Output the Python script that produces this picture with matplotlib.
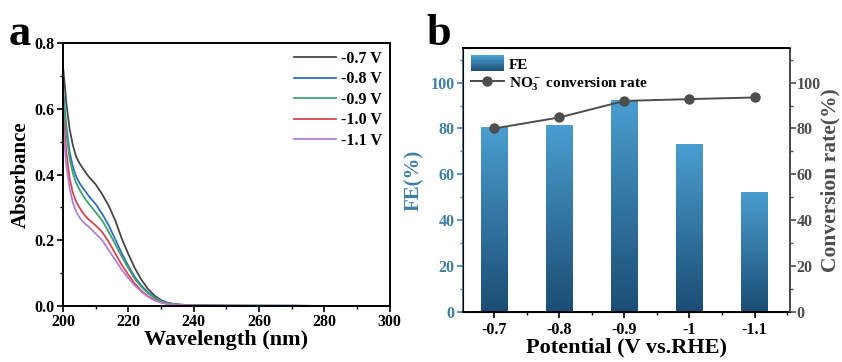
import numpy as np
import matplotlib
matplotlib.use("Agg")
import matplotlib.pyplot as plt
from matplotlib.ticker import MultipleLocator
from matplotlib.colors import LinearSegmentedColormap
from matplotlib.legend_handler import HandlerBase

plt.rcParams['font.family'] = 'Liberation Serif'
plt.rcParams['font.weight'] = 'bold'
plt.rcParams['mathtext.fontset'] = 'custom'
plt.rcParams['mathtext.rm'] = 'Liberation Serif:bold'
plt.rcParams['mathtext.it'] = 'Liberation Serif:bold'
plt.rcParams['mathtext.bf'] = 'Liberation Serif:bold'

# ---- panel a: UV-vis spectra ----
wavelength = [200, 201, 202, 203, 204, 205, 206, 207, 208, 210, 212, 214, 216, 218,
              220, 222, 224, 226, 228, 230, 232, 234, 236, 238, 240, 250, 260, 270,
              280, 290, 300]
abs_07 = [0.73, 0.62, 0.54, 0.49, 0.455, 0.435, 0.42, 0.405, 0.392, 0.37, 0.34, 0.305, 0.26,
          0.205, 0.158, 0.115, 0.080, 0.052, 0.032, 0.018, 0.010, 0.006, 0.004, 0.003,
          0.002, 0.001, 0.001, 0.001, 0.0, 0.0, 0.0]
abs_08 = [0.66, 0.55, 0.47, 0.425, 0.395, 0.375, 0.36, 0.347, 0.333, 0.31, 0.28, 0.245, 0.203,
          0.160, 0.122, 0.088, 0.062, 0.042, 0.027, 0.016, 0.009, 0.005, 0.004, 0.003,
          0.002, 0.001, 0.001, 0.001, 0.0, 0.0, 0.0]
abs_09 = [0.64, 0.53, 0.45, 0.405, 0.375, 0.355, 0.338, 0.323, 0.31, 0.285, 0.26, 0.225, 0.188,
          0.150, 0.115, 0.082, 0.058, 0.039, 0.025, 0.015, 0.008, 0.005, 0.003, 0.002,
          0.002, 0.001, 0.001, 0.0, 0.0, 0.0, 0.0]
abs_10 = [0.59, 0.47, 0.39, 0.345, 0.318, 0.30, 0.285, 0.272, 0.262, 0.245, 0.225, 0.195, 0.160,
          0.125, 0.095, 0.068, 0.046, 0.030, 0.019, 0.011, 0.006, 0.004, 0.003, 0.002,
          0.001, 0.001, 0.0, 0.0, 0.0, 0.0, 0.0]
abs_11 = [0.55, 0.43, 0.36, 0.315, 0.288, 0.27, 0.258, 0.248, 0.24, 0.22, 0.20, 0.17, 0.140,
          0.110, 0.085, 0.062, 0.043, 0.028, 0.017, 0.010, 0.006, 0.004, 0.002, 0.002,
          0.001, 0.001, 0.0, 0.0, 0.0, 0.0, 0.0]
spectra = [abs_07, abs_08, abs_09, abs_10, abs_11]
spec_labels = ['-0.7 V', '-0.8 V', '-0.9 V', '-1.0 V', '-1.1 V']
spec_colors = ['#474747', '#2f6fbf', '#3ea36c', '#d9434d', '#b07fd8']

# ---- panel b: FE and conversion rate ----
potentials = ['-0.7', '-0.8', '-0.9', '-1', '-1.1']
fe = [80.5, 81.5, 92.6, 73.2, 52.3]
conversion = [80.0, 84.8, 92.0, 92.8, 93.5]

cmap = LinearSegmentedColormap.from_list('fe', ['#1b4d74', '#4a9ed0'])


class GradientHandler(HandlerBase):
    # legend box drawn as a vertical gradient, like the bars
    def create_artists(self, legend, orig_handle, xdescent, ydescent,
                       width, height, fontsize, trans):
        n = 20
        arts = []
        for i in range(n):
            r = plt.Rectangle((-xdescent, -ydescent + height * i / n), width,
                              height / n + 0.3, facecolor=cmap(i / (n - 1)),
                              edgecolor='none', transform=trans)
            arts.append(r)
        return arts


fig = plt.figure(figsize=(8.42, 3.62), dpi=100)

# panel a
ax1 = fig.add_axes([0.0748, 0.1547, 0.388, 0.7265])
for y, lab, c in zip(spectra, spec_labels, spec_colors):
    ax1.plot(wavelength, y, color=c, lw=1.3, label=lab)
ax1.set_xlim(200, 300)
ax1.set_ylim(0, 0.8)
ax1.xaxis.set_major_locator(MultipleLocator(20))
ax1.xaxis.set_minor_locator(MultipleLocator(10))
ax1.yaxis.set_major_locator(MultipleLocator(0.2))
ax1.yaxis.set_minor_locator(MultipleLocator(0.1))
ax1.yaxis.set_major_formatter(matplotlib.ticker.FormatStrFormatter('%.1f'))
ax1.tick_params(which='major', length=4, width=1.2, labelsize=11.5, pad=2)
ax1.tick_params(which='minor', length=2, width=1.0)
for s in ax1.spines.values():
    s.set_linewidth(1.4)
ax1.set_xlabel('Wavelength (nm)', fontsize=16, fontweight='bold', labelpad=0)
ax1.set_ylabel('Absorbance', fontsize=15, fontweight='bold', labelpad=3)
ax1.legend(loc='upper right', frameon=False, fontsize=11.5, handlelength=2.6,
           labelspacing=0.28, borderaxespad=0.1, handletextpad=0.3)
fig.text(0.010, 0.875, 'a', fontsize=32, fontweight='bold')

# panel b
blue = '#3f7fa3'
gray = '#4d4d4d'
ax2 = fig.add_axes([0.5499, 0.138, 0.388, 0.729])
x = np.arange(len(potentials))
bars = ax2.bar(x, fe, width=0.41, color='#2e78a8', zorder=2)
grad = np.linspace(0, 1, 256).reshape(-1, 1)
for b in bars:
    bx, by = b.get_x(), b.get_y()
    w, h = b.get_width(), b.get_height()
    im = ax2.imshow(grad, cmap=cmap, origin='lower', aspect='auto',
                    extent=[bx, bx + w, by, by + h], zorder=2)
    im.set_clip_path(b)
    b.set_facecolor('none')
ax2.set_xlim(-0.48, 4.54)
ax2.set_ylim(0, 115)
ax2.set_xticks(x)
ax2.set_xticklabels(potentials)
ax2.xaxis.set_minor_locator(MultipleLocator(0.5))
ax2.yaxis.set_major_locator(MultipleLocator(20))
ax2.yaxis.set_minor_locator(MultipleLocator(10))
ax2.tick_params(axis='x', which='major', length=4, width=1.2, labelsize=11.5, pad=3)
ax2.tick_params(axis='x', which='minor', length=2, width=1.0)
ax2.tick_params(axis='y', which='major', length=4, width=1.2, labelsize=11.5, pad=2,
                colors=blue)
ax2.tick_params(axis='y', which='minor', length=2, width=1.0, colors=blue)
for s in ax2.spines.values():
    s.set_linewidth(1.4)
ax2.spines['left'].set_color(blue)
ax2.set_xlabel('Potential (V vs.RHE)', fontsize=16, fontweight='bold', labelpad=0)
ax2.set_ylabel('FE(%)', fontsize=15, fontweight='bold', color=blue, labelpad=5)

ax3 = ax2.twinx()
ax3.plot(x, conversion, color=gray, lw=1.4, marker='o', markersize=6.5, zorder=5)
ax3.set_ylim(0, 115)
ax3.yaxis.set_major_locator(MultipleLocator(20))
ax3.yaxis.set_minor_locator(MultipleLocator(10))
ax3.tick_params(axis='y', which='major', length=4, width=1.2, labelsize=11.5, pad=1,
                colors=gray)
ax3.tick_params(axis='y', which='minor', length=2, width=1.0, colors=gray)
ax3.spines['right'].set_color(gray)
ax3.spines['right'].set_linewidth(1.4)
ax3.set_ylabel('Conversion rate(%)', fontsize=15.5, fontweight='bold', color=gray,
               labelpad=0)

h_bar = plt.Rectangle((0, 0), 1, 1, facecolor='#2e78a8')
h_line = plt.Line2D([], [], color=gray, lw=1.4, marker='o', markersize=6.5)
ax3.legend([h_bar, h_line], ['FE', 'NO$_3^-$ conversion rate'], loc='upper left',
           frameon=False, fontsize=11, handlelength=2.2, handleheight=1.2,
           borderaxespad=0.1, labelspacing=0.15, handletextpad=0.3,
           handler_map={plt.Rectangle: GradientHandler()})
fig.text(0.506, 0.875, 'b', fontsize=32, fontweight='bold')

fig.savefig('out.png', dpi=100)
